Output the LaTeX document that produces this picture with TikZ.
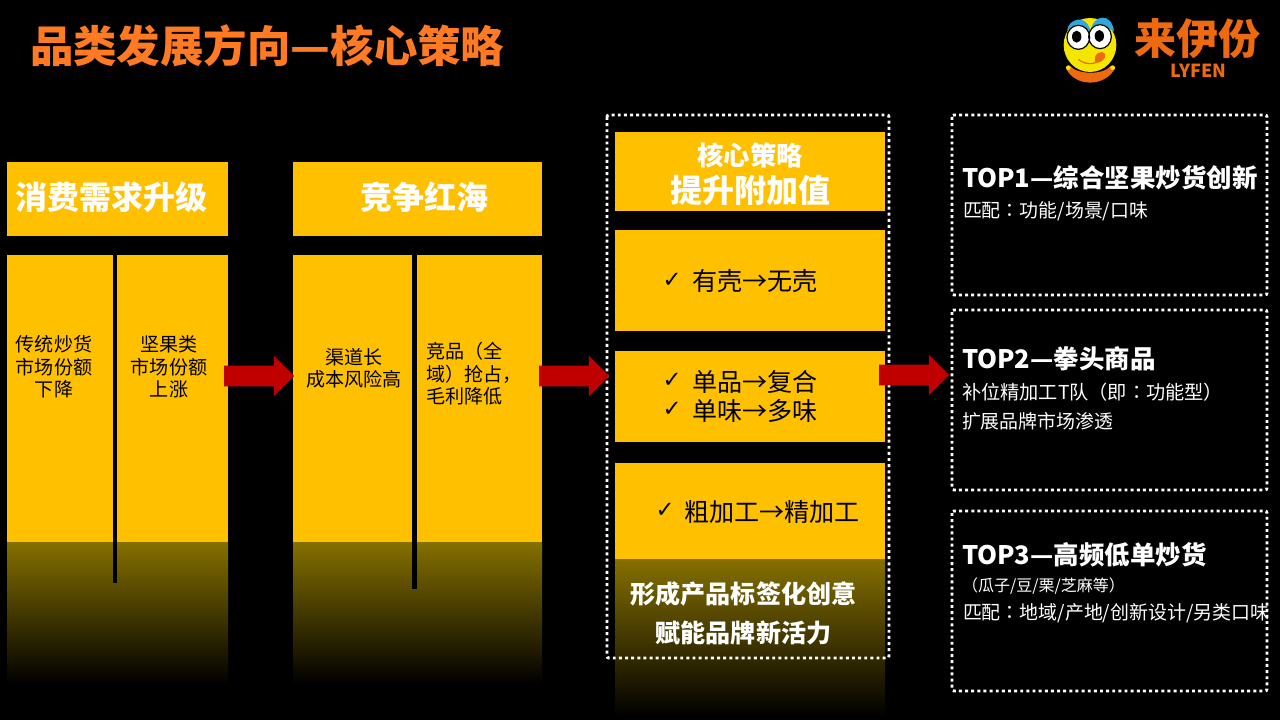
\documentclass[tikz,border=0pt]{standalone}
\usepackage{fontspec}
\setmainfont{Noto Sans CJK SC}
\newfontfamily\chk{DejaVu Sans}
\newfontfamily\tcf{Noto Sans CJK TC}
\newcommand{\cl}{{\tcf ：}}
\usetikzlibrary{shapes.arrows}
\definecolor{gold}{HTML}{FFC000}
\definecolor{golddim}{HTML}{857000}
\definecolor{ttl}{HTML}{FF7A22}
\definecolor{logoo}{HTML}{EE6A10}
\definecolor{arr}{HTML}{C00000}
\definecolor{sky}{HTML}{2FA8DC}
\definecolor{face}{HTML}{F5E600}
\newcommand{\fs}[1]{\fontsize{#1}{#1}\selectfont}
\tikzset{
  x=0.75pt,y=-0.75pt,
  panel/.style={fill=gold,draw=none},
  fadepanel/.style={top color=golddim,bottom color=black,draw=none},
  dotbox/.style={draw=white,line width=2.2pt,dash pattern=on 2.2pt off 2.4pt,rounded corners=1.5pt},
  lab/.style={inner sep=0pt,outer sep=0pt},
  head/.style={lab,text=white,font=\fs{24}\bfseries},
  colt/.style={lab,text=black,font=\fs{14.3},align=center},
  item/.style={lab,text=black,font=\fs{18.8},anchor=west},
  chkm/.style={lab,text=black,font=\chk\fs{17}},
  rt/.style={lab,text=white,font=\fs{19.1}\bfseries,anchor=west},
  rs/.style={lab,text=white,font=\fs{14.2},anchor=west},
  bigarrow/.style={single arrow,fill=arr,draw=none,inner xsep=0pt,inner ysep=7.5pt,outer sep=0pt,minimum width=30pt,minimum height=52.5pt,single arrow head extend=7.5pt,single arrow tip angle=90}
}
\begin{document}
\begin{tikzpicture}
\useasboundingbox (0,0) rectangle (1280,720);
\fill[black] (0,0) rectangle (1280,720);
% title
\node[lab,anchor=west,text=ttl,font=\fs{32.6}\bfseries] (title) at (30,46) {品类发展方向—核心策略};
% logo, in the 3x crop's coordinates
\begin{scope}[shift={(1040,0)},x=0.25pt,y=-0.25pt]
\fill[logoo] (78,205) .. controls (105,262) and (195,262) .. (225,205) -- (212,198) .. controls (190,225) and (115,225) .. (90,198) -- cycle;
\fill[face] (150,135) ellipse (79 and 81);
\fill[face] (85,203) circle (7) (218,203) circle (7);
\fill[sky] (81,92) .. controls (85,58) and (135,40) .. (150,88) -- (147,95) .. controls (125,80) and (100,80) .. (81,92) -- cycle;
\fill[sky] (153,88) .. controls (160,45) and (215,35) .. (222,95) .. controls (205,82) and (175,80) .. (155,95) -- cycle;
\fill[white,draw=black,line width=0.9pt] (115,112) ellipse (34 and 36) (180,110) ellipse (34 and 36);
\fill[black] (110,110) ellipse (14 and 18) (178,108) ellipse (14 and 18);
\draw[logoo,line width=0.9pt] (115,178) .. controls (135,195) and (165,195) .. (185,178);
\fill[logoo] (165,170) .. controls (175,150) and (200,152) .. (195,172) .. controls (190,185) and (175,188) .. (165,188) -- cycle;
\end{scope}
\node[lab,text=logoo,font=\fs{31.5}\bfseries] (logotext) at (1197.5,39) {来伊份};
\node[lab,text=logoo,font=\fs{13.5}\bfseries] (logosub) at (1198.5,71) {LYFEN};
% column 1
\node[panel,lab,minimum width=165.75pt,minimum height=55.5pt] (h1) at (117.5,199) {};
\node[head] at (111,197) {消费需求升级};
\fill[gold] (7,255) rectangle (228,542);
\shade[fadepanel] (7,542) rectangle (228,684);
\fill[black] (113,255) rectangle (117,583);
\node[colt] (c1a) at (54,367) {传统炒货\\[2.5pt]市场份额\\[2.5pt]下降};
\node[colt] (c1b) at (169,367) {坚果类\\[2.5pt]市场份额\\[2.5pt]上涨};
% column 2
\node[panel,lab,minimum width=186.75pt,minimum height=55.5pt] (h2) at (417.5,199) {};
\node[head] at (424,197) {竞争红海};
\fill[gold] (293,255) rectangle (542,542);
\shade[fadepanel] (293,542) rectangle (542,684);
\fill[black] (412,255) rectangle (417,589);
\node[colt] (c2a) at (354,368) {渠道长\\[2.5pt]成本风险高};
\node[colt,align=left,anchor=west] (c2b) at (426,374) {竞品（全\\[2.5pt]域）抢占，\\[2.5pt]毛利降低};
% column 3
\shade[fadepanel] (615,559) rectangle (885,716);
\node[panel,lab,minimum width=202.5pt,minimum height=59.25pt] (s0) at (750,171.5) {};
\node[lab,text=white,font=\fs{19.8}\bfseries] at (750,155) {核心策略};
\node[lab,text=white,font=\fs{24}\bfseries] at (750,190) {提升附加值};
\node[panel,lab,minimum width=202.5pt,minimum height=75.75pt] (s1) at (750,280.5) {};
\node[chkm] at (672,280) {✓};
\node[item] at (692,281) {有壳→无壳};
\node[panel,lab,minimum width=202.5pt,minimum height=68.25pt] (s2) at (750,396.5) {};
\node[chkm] at (672,380) {✓};
\node[item] at (692,382) {单品→复合};
\node[chkm] at (672,409) {✓};
\node[item] at (692,411) {单味→多味};
\node[panel,lab,minimum width=202.5pt,minimum height=72pt] (s3) at (750,511) {};
\node[chkm] at (665,510) {✓};
\node[item] at (684,512) {粗加工→精加工};
\node[lab,text=white,font=\fs{18.8}\bfseries] at (743.5,594) {形成产品标签化创意};
\node[lab,text=white,font=\fs{18.8}\bfseries] at (743.5,633) {赋能品牌新活力};
\draw[dotbox] (607,115) rectangle (889,658);
% right column
\draw[dotbox] (952,115) rectangle (1267,295);
\node[rt] at (962,178) {TOP1—综合坚果炒货创新};
\node[rs] at (963,211) {匹配\cl 功能/场景/口味};
\draw[dotbox] (952,310) rectangle (1267,490);
\node[rt] at (962,359) {TOP2—拳头商品};
\node[rs,font=\fs{14.4}] at (962,392) {补位精加工T队（即\cl 功能型）};
\node[rs] at (962,421) {扩展品牌市场渗透};
\draw[dotbox] (952,511) rectangle (1267,691);
\node[rt] at (962,555) {TOP3—高频低单炒货};
\node[rs,font=\fs{12}] at (962,586) {（瓜子/豆/栗/芝麻等）};
\node[rs] at (963,613) {匹配\cl 地域/产地/创新设计/另类口味};
% arrows
\node[bigarrow] (a1) at (254,376) {};
\node[bigarrow] (a2) at (569,376) {};
\node[bigarrow] (a3) at (909,375) {};
\end{tikzpicture}
\end{document}
